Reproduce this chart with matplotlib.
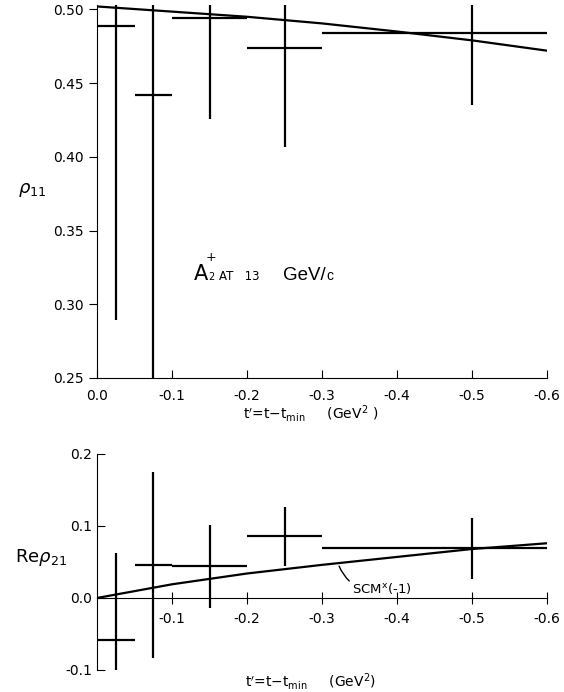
import matplotlib.pyplot as plt

# t' bins (magnitude, GeV^2); axis is labelled with negative values
bin_lo = [0.0, 0.05, 0.10, 0.20, 0.30]
bin_hi = [0.05, 0.10, 0.20, 0.30, 0.60]
t_mid = [0.025, 0.075, 0.15, 0.25, 0.50]

# rho_11
rho11 = [0.489, 0.442, 0.494, 0.474, 0.484]
rho11_err = [0.20, 0.20, 0.068, 0.067, 0.049]

# Re rho_21
re_rho21 = [-0.058, 0.046, 0.044, 0.086, 0.069]
re_rho21_err = [0.12, 0.129, 0.058, 0.041, 0.042]

# model curves (SCM x (-1))
curve_t = [0.0, 0.1, 0.2, 0.3, 0.4, 0.5, 0.6]
curve_rho11 = [0.502, 0.4985, 0.495, 0.4905, 0.485, 0.479, 0.472]
curve_rho21 = [0.0, 0.019, 0.034, 0.046, 0.057, 0.068, 0.076]

x_ticks = [0.0, -0.1, -0.2, -0.3, -0.4, -0.5, -0.6]

W, H = 564, 692
plt.rcParams['font.family'] = 'DejaVu Sans'
fig = plt.figure(figsize=(W / 100, H / 100), dpi=100)


def px(x, y):
    # pixel position (from top-left) -> figure fraction
    return x / W, 1 - y / H


neg = lambda v: [-a for a in v]
# x is plotted negated, so the "left" error is the upper bin edge
xerr_left = [hi - m for m, hi in zip(t_mid, bin_hi)]
xerr_right = [m - lo for m, lo in zip(t_mid, bin_lo)]

# ---- top panel ----
ax1 = fig.add_axes([0.172, 0.4538, 0.798, 0.539])
ax1.errorbar(neg(t_mid), rho11, yerr=rho11_err, xerr=[xerr_left, xerr_right],
             fmt='none', ecolor='black', elinewidth=1.6, capsize=0)
ax1.plot(neg(curve_t), curve_rho11, color='black', lw=1.6)
ax1.set_xlim(0, -0.6)
ax1.set_ylim(0.25, 0.503)
ax1.spines['top'].set_visible(False)
ax1.spines['right'].set_visible(False)
ax1.set_xticks(x_ticks)
ax1.set_xticklabels(['0.0'] + ['%.1f' % v for v in x_ticks[1:]])
ax1.set_yticks([0.25, 0.30, 0.35, 0.40, 0.45, 0.50])
ax1.set_yticklabels(['0.25', '0.30', '0.35', '0.40', '0.45', '0.50'])
ax1.tick_params(axis='x', direction='in', length=6, labelsize=10, pad=8)
ax1.tick_params(axis='y', direction='out', length=6, labelsize=10)
fig.text(*px(18, 190), r'$\rho_{11}$', fontsize=13, ha='left', va='center')

# "A2+ AT 13 GeV/c" label
a_txt = fig.text(*px(194, 280), 'A', fontsize=15, va='baseline')
fig.canvas.draw()
a_end = a_txt.get_window_extent().x1 / W
fig.text(a_end, 1 - 280 / H, '2', fontsize=7, va='baseline')
fig.text(a_end - 3 / W, 1 - 258 / H, '+', fontsize=9, ha='left', va='center')
fig.text(*px(219, 280), 'AT   13', fontsize=8.5, va='baseline')
gev = fig.text(*px(283, 280), 'GeV/', fontsize=13.5, va='baseline',
               family='Liberation Sans')
fig.canvas.draw()
g_end = gev.get_window_extent().x1 / W
fig.text(g_end + 0.5 / W, 1 - 280 / H, 'c', fontsize=10, va='baseline',
         family='Liberation Sans')

fig.text(0.55, 1 - 413 / H, r"t$'$=t$-$t$_{\rm min}$     (GeV$^2$ )",
         ha='center', va='center', fontsize=10)

# ---- bottom panel ----
ax2 = fig.add_axes([0.172, 0.0318, 0.798, 0.3122])
ax2.errorbar(neg(t_mid), re_rho21, yerr=re_rho21_err, xerr=[xerr_left, xerr_right],
             fmt='none', ecolor='black', elinewidth=1.6, capsize=0)
ax2.plot(neg(curve_t), curve_rho21, color='black', lw=1.6)
ax2.set_xlim(0, -0.6)
ax2.set_ylim(-0.1, 0.2)
ax2.spines['top'].set_visible(False)
ax2.spines['right'].set_visible(False)
ax2.spines['bottom'].set_position(('data', 0))
ax2.set_xticks(x_ticks[1:])
ax2.set_xticklabels(['%.1f' % v for v in x_ticks[1:]])
ax2.set_yticks([-0.1, 0.0, 0.1, 0.2])
ax2.set_yticklabels(['-0.1', '0.0', '0.1', '0.2'])
ax2.tick_params(axis='x', direction='inout', length=8, labelsize=10, pad=6)
ax2.tick_params(axis='y', direction='in', length=6, labelsize=10)
fig.text(*px(15, 558), r'Re$\rho_{21}$', fontsize=13, ha='left', va='center')
ax2.annotate(r'SCM$^{\rm x}$(-1)', xy=(-0.322, 0.046), xytext=(-0.34, 0.013),
             fontsize=9.5, va='center',
             arrowprops=dict(arrowstyle='-', color='black', lw=1.0,
                             connectionstyle='arc3,rad=-0.4',
                             shrinkA=0, shrinkB=1))
fig.text(0.55, 1 - 682 / H, r"t$'$=t$-$t$_{\rm min}$     (GeV$^2$)",
         ha='center', va='center', fontsize=10)

fig.savefig('out.png', dpi=100)
